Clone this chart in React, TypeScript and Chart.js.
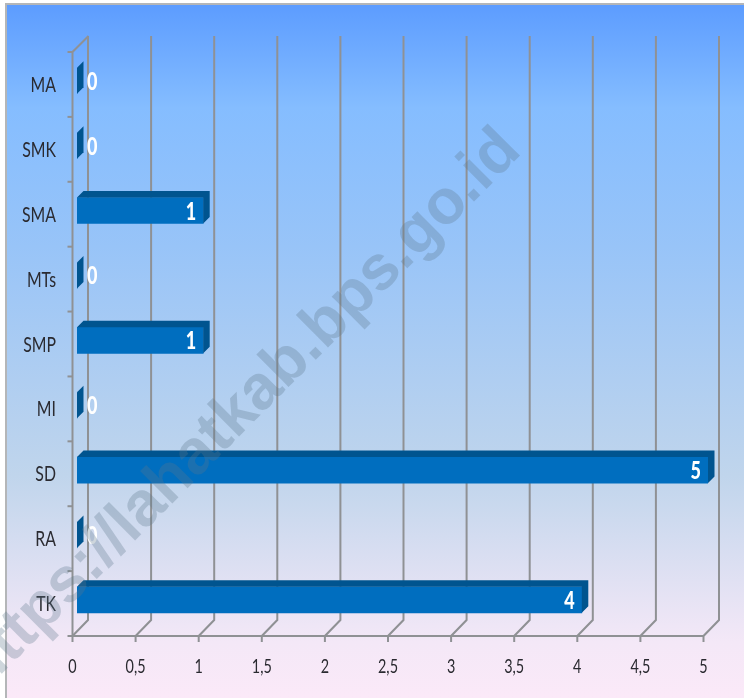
import React, { useEffect, useRef } from "react";
import { Chart, registerables } from "chart.js";

Chart.register(...registerables);

const categories = ["MA", "SMK", "SMA", "MTs", "SMP", "MI", "SD", "RA", "TK"];
const values = [0, 0, 1, 0, 1, 0, 5, 0, 4];
const axisMax = 5;
const axisStep = 0.5;
const watermark = "https://lahatkab.bps.go.id";
const FONT = 'Lato, "Open Sans", sans-serif';
const SQUEEZE = 0.72;

const DEPTH_X = 16;
const DEPTH_Y = 16;
const BAR_DX = 4.5;
const BAR_DY = -3.7;
const BAR_DEPTH = 6.5;

const frontBlue = "#006ebf";
const darkBlue = "#00548f";
const gridGray = "#8f9194";
const textColor = "#2a2a30";

function squeezedText(ctx: any, text: string, x: number, y: number, align: string, font: string, color: string) {
  ctx.save();
  ctx.translate(x, y);
  ctx.scale(SQUEEZE, 1);
  ctx.font = font;
  ctx.fillStyle = color;
  ctx.textAlign = align;
  ctx.textBaseline = "middle";
  ctx.fillText(text, 0, 0);
  ctx.restore();
}

const pagePlugin = {
  id: "page",
  beforeDraw(chart: any) {
    const { ctx, width, height } = chart;
    ctx.save();
    ctx.fillStyle = "#ffffff";
    ctx.fillRect(0, 0, width, height);
    const g = ctx.createLinearGradient(0, 4, 0, height);
    g.addColorStop(0, "#5c9cff");
    g.addColorStop(0.15, "#85bdff");
    g.addColorStop(0.35, "#98c4f8");
    g.addColorStop(0.68, "#c0d5ec");
    g.addColorStop(0.92, "#f4e8f7");
    g.addColorStop(1, "#fbe9f8");
    ctx.fillStyle = g;
    ctx.fillRect(6, 4, width - 6, height - 4);
    ctx.fillStyle = "#b4b6b8";
    ctx.fillRect(5, 3, width - 5, 2);
    ctx.fillRect(5, 3, 2, height - 3);
    ctx.restore();
  },
  beforeDatasetsDraw(chart: any) {
    const { ctx } = chart;
    const x = chart.scales.x;
    const y = chart.scales.y;
    ctx.save();
    ctx.strokeStyle = gridGray;
    ctx.lineWidth = 2;
    x.ticks.forEach((t: any) => {
      const px = x.getPixelForValue(t.value);
      ctx.beginPath();
      ctx.moveTo(px + DEPTH_X - 0.5, y.top - DEPTH_Y);
      ctx.lineTo(px + DEPTH_X - 0.5, y.bottom - DEPTH_Y);
      ctx.lineTo(px, y.bottom);
      ctx.lineTo(px, y.bottom + 6);
      ctx.stroke();
      squeezedText(ctx, String(t.value).replace(".", ","), px, y.bottom + 31, "center", `20px ${FONT}`, textColor);
    });
    const x0 = x.getPixelForValue(0);
    ctx.beginPath();
    ctx.moveTo(x0 + DEPTH_X, y.top - DEPTH_Y);
    ctx.lineTo(x0, y.top);
    ctx.lineTo(x0, y.bottom);
    ctx.lineTo(x.getPixelForValue(axisMax), y.bottom);
    ctx.stroke();
    const n = categories.length;
    for (let i = 0; i <= n; i++) {
      const py = y.top + (i * (y.bottom - y.top)) / n;
      ctx.beginPath();
      ctx.moveTo(x0 - 5, py);
      ctx.lineTo(x0, py);
      ctx.stroke();
    }
    y.ticks.forEach((t: any, i: number) => {
      squeezedText(ctx, categories[t.value ?? i], x0 - 16.5, y.getPixelForTick(i) + 0.5, "right", `22px ${FONT}`, textColor);
    });
    ctx.restore();
  },
  beforeDatasetDraw(chart: any) {
    chart.ctx.save();
    chart.ctx.translate(BAR_DX, BAR_DY);
  },
  afterDatasetDraw(chart: any, args: any) {
    const { ctx } = chart;
    ctx.restore();
    const x = chart.scales.x;
    const x0 = x.getPixelForValue(0) + BAR_DX;
    args.meta.data.forEach((bar: any, i: number) => {
      const h = bar.height;
      const top = bar.y - h / 2 + BAR_DY;
      const bot = top + h;
      const right = bar.x + BAR_DX;
      ctx.fillStyle = darkBlue;
      ctx.beginPath();
      ctx.moveTo(x0, top);
      ctx.lineTo(x0 + BAR_DEPTH, top - BAR_DEPTH);
      ctx.lineTo(right + BAR_DEPTH, top - BAR_DEPTH);
      ctx.lineTo(right + BAR_DEPTH, bot - BAR_DEPTH);
      ctx.lineTo(right, bot);
      ctx.lineTo(right, top);
      ctx.closePath();
      ctx.fill();
      const v = values[i];
      const font = `900 25px ${FONT}`;
      if (v > 0) {
        squeezedText(ctx, String(v), right - 7, bar.y + BAR_DY + 1, "right", font, "#ffffff");
      } else {
        squeezedText(ctx, String(v), right + 10, bar.y + BAR_DY + 1, "left", font, "#ffffff");
      }
    });
  },
  afterDraw(chart: any) {
    const { ctx } = chart;
    ctx.save();
    ctx.translate(241, 410);
    ctx.rotate(-Math.PI / 4);
    ctx.font = `bold 63px "Liberation Sans", sans-serif`;
    ctx.fillStyle = "rgba(94,118,139,0.3)";
    ctx.textAlign = "center";
    ctx.textBaseline = "middle";
    ctx.fillText(watermark, 0, 0);
    ctx.restore();
  },
};

export default function App() {
  const ref = useRef<HTMLCanvasElement>(null);
  useEffect(() => {
    const chart = new Chart(ref.current as HTMLCanvasElement, {
      type: "bar",
      plugins: [pagePlugin],
      data: {
        labels: categories,
        datasets: [
          {
            data: values,
            backgroundColor: frontBlue,
            barThickness: 26,
            borderWidth: 0,
          },
        ],
      },
      options: {
        indexAxis: "y",
        animation: false,
        responsive: false,
        devicePixelRatio: 1,
        layout: { padding: { top: 52, right: 40.5, left: 0, bottom: 0 } },
        plugins: { legend: { display: false }, title: { display: false }, tooltip: { enabled: false } },
        scales: {
          x: {
            min: 0,
            max: axisMax,
            afterFit: (s: any) => {
              s.height = 62;
            },
            grid: { display: false, drawTicks: false },
            border: { display: false },
            ticks: { stepSize: axisStep, display: false },
          },
          y: {
            afterFit: (s: any) => {
              s.width = 72.5;
            },
            grid: { display: false, drawTicks: false },
            border: { display: false },
            ticks: { autoSkip: false, display: false },
          },
        },
      } as any,
    });
    return () => chart.destroy();
  }, []);
  return (
    <div style={{ position: "fixed", left: 0, top: 0, width: 744, height: 698 }}>
      <canvas ref={ref} width={744} height={698} style={{ display: "block" }} />
    </div>
  );
}
